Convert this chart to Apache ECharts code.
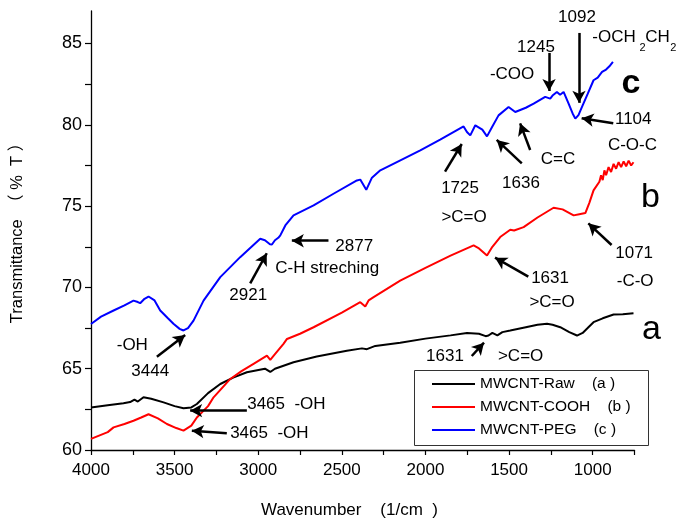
<!DOCTYPE html>
<html><head><meta charset="utf-8">
<script src="https://cdn.jsdelivr.net/npm/echarts@6/dist/echarts.min.js"></script>
<style>html,body{margin:0;padding:0;background:#fff}#c{width:684px;height:527px}</style>
</head><body><div id="c"></div>
<script>
// ---- data (wavenumber, transmittance) ----
const rawWn = [4000,3900,3806,3766,3740,3720,3686,3640,3566,3500,3447,3400,3367,3300,3227,3150,3068,2960,2928,2900,2789,2650,2470,2380,2350,2300,2151,2000,1850,1752,1680,1640,1623,1600,1570,1540,1493,1400,1330,1273,1240,1194,1140,1094,1060,1030,995,940,875,820,756];
const rawT  = [62.62,62.75,62.87,62.95,63.1,62.98,63.24,63.15,62.93,62.7,62.57,62.62,62.83,63.5,64.06,64.45,64.78,65.0,64.8,65.0,65.4,65.75,66.11,66.25,66.2,66.4,66.6,66.85,67.05,67.2,67.15,67.0,67.04,67.2,67.05,67.25,67.35,67.55,67.7,67.76,67.7,67.55,67.25,67.04,67.2,67.5,67.86,68.1,68.33,68.35,68.41];

const coohWn = [4000,3900,3865,3800,3746,3700,3656,3600,3546,3490,3447,3400,3367,3300,3267,3167,3100,3028,2948,2928,2900,2849,2828,2750,2669,2500,2390,2360,2340,2310,2151,2000,1850,1712,1680,1632,1600,1553,1493,1470,1413,1330,1234,1180,1114,1080,1044,1020,995,960,950,940,930,920,905,890,875,860,845,830,815,800,785,770,756];
const coohT  = [60.68,61.1,61.39,61.6,61.8,62.0,62.2,61.95,61.6,61.35,61.19,61.5,62.0,62.7,63.24,64.37,64.85,65.3,65.8,65.55,65.9,66.53,66.83,67.15,67.55,68.45,69.09,68.82,69.2,69.4,70.42,71.2,71.95,72.58,72.4,71.96,72.5,73.1,73.55,73.5,73.71,74.3,74.9,74.8,74.43,74.5,74.57,75.2,75.97,76.5,76.9,76.6,77.2,76.9,77.4,77.1,77.6,77.3,77.7,77.4,77.75,77.45,77.8,77.5,77.7];

const pegWn = [4000,3940,3865,3800,3746,3720,3706,3680,3656,3620,3586,3540,3507,3470,3447,3420,3387,3327,3227,3108,3040,2988,2960,2930,2918,2900,2880,2868,2838,2789,2669,2550,2410,2390,2354,2320,2270,2171,2031,1912,1772,1752,1732,1702,1692,1660,1632,1600,1563,1503,1463,1400,1353,1284,1254,1240,1214,1195,1174,1144,1120,1104,1085,1064,1030,995,970,944,920,900,879];
const pegT  = [67.75,68.2,68.58,68.9,69.19,69.1,69.03,69.3,69.44,69.2,68.58,68.1,67.76,67.45,67.35,67.5,67.96,69.19,70.63,71.86,72.5,72.99,72.9,72.65,72.64,72.9,73.05,73.2,73.81,74.43,75.04,75.76,76.58,76.63,76.0,76.75,77.2,77.71,78.43,79.09,79.9,79.56,79.35,79.97,80.07,79.7,79.29,79.9,80.58,81.1,80.79,81.05,81.3,81.72,81.61,81.8,82.02,81.85,82.02,81.3,80.7,80.38,80.6,81.1,81.9,82.74,82.9,83.25,83.4,83.6,83.87];

const seriesNames = ['MWCNT-Raw','MWCNT-COOH','MWCNT-PEG'];
const legendSuffix = ['(a )','(b )','(c )'];

// ---- axis ticks / labels ----
const xTicks  = [4000,3750,3500,3250,3000,2750,2500,2250,2000,1750,1500,1250,1000,750];
const xLabels = [4000,3500,3000,2500,2000,1500,1000];
const yTicks  = [60,62.5,65,67.5,70,72.5,75,77.5,80,82.5,85];
const yLabels = [60,65,70,75,80,85];

// ---- annotations (data coordinates) ----
const arrows = [
  [2580,72.87,2799,72.87],
  [3048,70.25,2949,72.1],
  [3606,65.74,3437,67.07],
  [3068,62.42,3407,62.42],
  [3188,61.03,3397,61.19],
  [1883,77.12,1783,78.82],
  [1424,77.63,1574,79.07],
  [1374,78.45,1434,80.09],
  [1261,84.42,1261,82.08],
  [1082,85.65,1082,81.35],
  [877,80.09,1066,80.4],
  [1385,70.66,1584,71.83],
  [887,72.61,1026,73.94],
  [1723,65.78,1650,66.6]
];
const notes = [
  [2426,72.55,'2877','center',17],
  [2898,71.19,'C-H streching','left',17],
  [3060,69.53,'2921','center',17],
  [3753,66.46,'-OH','center',17],
  [3646,64.86,'3444','center',17],
  [3066,62.83,'3465  -OH','left',17],
  [3168,61.05,'3465  -OH','left',17],
  [1793,76.11,'1725','center',17],
  [1769,74.33,'>C=O','center',17],
  [1429,76.42,'1636','center',17],
  [1207,77.9,'C=C','center',17],
  [1339,84.78,'1245','center',17],
  [1482,83.12,'-COO','center',17],
  [1094,86.63,'1092','center',17],
  [1002,85.37,'-OCH','left',17],
  [720,84.75,'2','left',11],
  [686,85.37,'CH','left',17],
  [536,84.75,'2','left',11],
  [867,80.36,'1104','left',17],
  [909,78.76,'C-O-C','left',17],
  [752,72.12,'1071','center',17],
  [746,70.39,'-C-O','center',17],
  [1255,70.58,'1631','center',17],
  [1243,69.1,'>C=O','center',17],
  [1883,65.74,'1631','center',17],
  [1431,65.78,'>C=O','center',17]
];
const curveTags = [
  [771,82.51,'c','bold'],
  [655,75.5,'b','normal'],
  [649,67.38,'a','normal']
];

const FONT = 'Liberation Sans, Arial, sans-serif';
const zip = (a,b) => a.map((v,i)=>[v,b[i]]);

const chart = echarts.init(document.getElementById('c'), null, {renderer:'canvas'});
const lineSeries = (name, wn, t, color) => ({
  name, type:'line', data: zip(wn,t), showSymbol:false, symbol:'none',
  lineStyle:{color, width:2}, itemStyle:{color}, animation:false, z:3
});
const labelBase = {show:true, position:'inside', color:'#000', fontFamily:FONT, verticalAlign:'middle',
  textBorderWidth:0, textBorderColor:'transparent', textShadowBlur:0, opacity:1};

chart.setOption({
  animation:false,
  backgroundColor:'#fff',
  textStyle:{fontFamily:FONT},
  grid:{left:91, right:49.5, top:11, bottom:77, containLabel:false},
  xAxis:{
    type:'value', inverse:true, min:750, max:4000,
    axisLine:{show:true, lineStyle:{color:'#000', width:1.3}},
    axisTick:{show:true, inside:false, length:5, customValues:xTicks, lineStyle:{color:'#000', width:1.2}},
    axisLabel:{show:true, customValues:xLabels, formatter: v => String(v), color:'#000', fontSize:17, fontFamily:FONT, margin:12},
    splitLine:{show:false}
  },
  yAxis:{
    type:'value', min:60, max:87,
    axisLine:{show:true, lineStyle:{color:'#000', width:1.3}},
    axisTick:{show:true, inside:false, length:6, customValues:yTicks, lineStyle:{color:'#000', width:1.2}},
    axisLabel:{show:true, customValues:yLabels, formatter: v => String(v), color:'#000', fontSize:18, fontFamily:FONT, margin:9},
    splitLine:{show:false}
  },
  legend:{
    data:seriesNames, orient:'vertical', left:432, top:376,
    icon:'rect', itemWidth:43, itemHeight:2, itemGap:7, padding:0,
    formatter: n => n + '    ' + legendSuffix[seriesNames.indexOf(n)],
    textStyle:{fontSize:15.5, color:'#000', fontFamily:FONT}
  },
  graphic:[
    {type:'rect', left:412, top:368, shape:{width:234, height:75}, style:{fill:'none', stroke:'#333', lineWidth:1}, z:1},
    {type:'text', x:17, y:229, rotation:Math.PI/2, style:{text:'Transmittance　（ %  T ）', fontSize:16.5, fontFamily:FONT + ', Noto Sans CJK SC', fill:'#000', align:'center', verticalAlign:'middle'}},
    {type:'text', x:261, y:510, style:{text:'Wavenumber    (1/cm  )', fontSize:17, fontFamily:FONT, fill:'#000', align:'left', verticalAlign:'middle'}}
  ],
  series:[
    lineSeries(seriesNames[0], rawWn, rawT, '#000000'),
    lineSeries(seriesNames[1], coohWn, coohT, '#ff0000'),
    lineSeries(seriesNames[2], pegWn, pegT, '#0000ff'),
    {
      name:'arrows', type:'line', data:[], silent:true, animation:false,
      markLine:{
        silent:true, animation:false, symbol:['none','arrow'], symbolSize:[10,12],
        lineStyle:{color:'#000', width:2.5, type:'solid', opacity:1}, label:{show:false},
        emphasis:{disabled:true},
        data: arrows.map(a => [{coord:[a[0],a[1]]},{coord:[a[2],a[3]]}])
      }
    },
    {
      name:'notes', type:'scatter', symbolSize:0, clip:false, silent:true, animation:false, z:5,
      itemStyle:{color:'#000', opacity:1}, emphasis:{disabled:true},
      data: notes.map(n => ({value:[n[0],n[1]], label:{formatter:n[2], align:n[3], fontSize:n[4]}})),
      label:Object.assign({}, labelBase, {fontSize:17})
    },
    {
      name:'tags', type:'scatter', symbolSize:0, clip:false, silent:true, animation:false, z:5,
      itemStyle:{color:'#000', opacity:1}, emphasis:{disabled:true},
      data: curveTags.map(n => ({value:[n[0],n[1]], label:{formatter:n[2], fontWeight:n[3]}})),
      label:Object.assign({}, labelBase, {fontSize:34, align:'center'})
    }
  ]
});
</script></body></html>
